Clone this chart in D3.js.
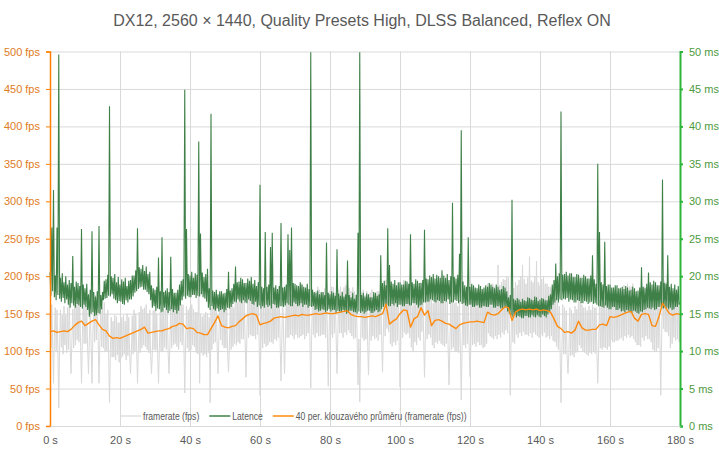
<!DOCTYPE html>
<html>
<head>
<meta charset="utf-8">
<script src="https://cdn.jsdelivr.net/npm/d3@7"></script>
<style>
  html, body { margin: 0; padding: 0; background: #fff; }
  svg { display: block; font-family: "Liberation Sans", Arial, sans-serif; }
</style>
</head>
<body>
<svg id="chart" width="719" height="455"></svg>
<script>
// ---- DATA ----
const title = "DX12, 2560 × 1440, Quality Presets High, DLSS Balanced, Reflex ON";
const seriesNames = ["framerate (fps)", "Latence", "40 per. klouzavého průměru (framerate (fps))"];
const timeStep = 0.25;     // seconds between samples of framerate / latency
const avgStep = 1;         // seconds between samples of the moving average
const xTicks = [0, 20, 40, 60, 80, 100, 120, 140, 160, 180];
const fpsTicks = [0, 50, 100, 150, 200, 250, 300, 350, 400, 450, 500];
const msTicks = [0, 5, 10, 15, 20, 25, 30, 35, 40, 45, 50];

// framerate (fps), 4 samples per second
const framerate = [
150,104,162,112, 57,118,158,100, 155,103,24,110, 155,105,148,96, 160,108,148,98,
158,102,165,110, 70,114,156,104, 162,108,170,115, 170,112,165,106, 57,118,172,110,
168,110,160,104, 70,115,160,108, 57,120,172,112, 175,115,168,118, 57,112,163,106,
158,104,165,100, 150,100,155,96, 31,98,145,92, 140,92,148,88, 146,95,138,85,
138,90,145,93, 148,96,140,88, 150,94,145,98, 70,100,147,96, 155,100,150,104,
57,102,152,98, 160,104,156,108, 158,106,162,102, 150,98,155,94, 70,100,154,102,
155,101,150,97, 57,104,152,100, 158,100,154,105, 155,102,160,98, 70,106,160,104,
162,108,158,110, 160,106,165,102, 168,112,162,108, 162,110,44,112, 160,104,155,100,
158,102,162,108, 156,106,152,98, 152,96,230,57, 150,98,146,94, 148,96,152,92,
150,98,145,31, 158,102,162,110, 170,112,165,108, 70,118,175,115, 165,108,160,104,
160,104,156,100, 72,106,162,102, 165,106,158,110, 204,108,165,112, 170,110,174,116,
175,116,170,112, 65,120,180,118, 182,122,176,120, 178,120,184,116, 180,122,175,110,
41,106,166,104, 168,110,162,106, 170,108,165,112, 172,112,168,110, 176,116,170,114,
178,118,174,112, 60,120,180,116, 70,114,176,118, 182,118,178,122, 175,120,182,116,
180,122,176,118, 176,118,184,120, 190,122,178,116, 182,120,176,124, 178,118,51,122,
182,122,178,118, 180,124,186,120, 182,120,176,122, 178,122,184,118, 180,125,53,120,
180,122,186,118, 185,124,178,120, 70,122,182,124, 186,124,180,118, 185,125,188,122,
190,128,184,124, 180,120,185,116, 180,118,176,114, 55,116,32,118, 178,118,182,114,
175,116,180,112, 68,118,178,114, 182,120,176,116, 176,118,180,114, 180,122,184,118,
72,124,185,120, 195,130,200,126, 200,110,176,106, 172,112,178,108, 178,114,182,116,
52,120,185,118, 195,125,190,122, 190,124,186,118, 165,105,160,100, 178,112,172,108,
184,118,180,114, 192,126,188,120, 65,118,185,116, 190,122,186,118, 168,108,164,104,
176,112,172,110, 180,114,176,110, 172,108,176,106, 170,110,166,104, 55,108,168,102,
168,105,164,100, 165,100,160,98, 168,104,35,106, 172,108,168,104, 175,110,170,106,
66,110,174,108, 176,110,172,106, 178,112,174,108, 175,108,170,104, 172,106,176,110,
190,124,186,120, 185,118,190,116, 186,120,182,116, 215,122,188,118, 192,125,196,122,
195,128,200,124, 198,130,41,120, 178,112,184,110, 192,122,188,118, 195,124,200,120,
215,126,196,122, 190,122,198,120, 226,124,194,118, 192,125,200,122, 220,120,192,118,
188,122,196,120, 200,125,190,118, 190,120,186,116, 185,120,180,114, 175,112,170,106,
165,102,160,98, 31,100,162,96, 158,96,154,92, 70,98,158,94, 155,95,150,92,
160,98,156,100, 172,108,166,104, 162,100,158,98, 158,96,154,94, 160,98,155,96,
162,100,158,97, 158,98,57,100, 168,104,164,102, 170,105,166,104, 166,102,170,106,
180,115,176,112, 182,112,178,114, 178,114,184,116, 185,118,180,114, 188,120,184,118,
190,122,186,118, 186,120,190,116, 178,112,174,108, 172,108,176,106, 184,118,180,114,
186,120,182,116, 182,116,178,112, 166,102,162,100, 168,100,164,104, 176,114,41,120,
198,130,194,126, 192,125,188,120, 184,104,180,110, 180,118,176,114, 182,116,178,112,
140
];

// latency (ms), 4 samples per second
const latency = [
20.5,17.4,26.5,18.0, 31.5,17.2,20.1,16.8, 26.5,17.5,49.6,17.0, 19.8,16.6,20.4,17.1, 19.2,16.4,20.0,16.9,
18.9,16.2,19.5,15.8, 19.1,16.4,22.7,16.1, 18.6,15.8,19.3,16.3, 19.1,16.1,18.7,15.9, 26.3,15.7,18.9,16.2,
18.4,15.9,19.0,15.5, 17.6,14.6,18.2,15.0, 26.0,15.2,17.9,14.7, 17.3,14.8,18.0,15.1, 26.7,15.0,17.5,15.6,
17.9,16.8,19.4,17.0, 19.6,17.1,20.2,17.4, 42.7,17.3,20.0,17.6, 19.8,17.0,20.3,16.8, 19.2,16.4,19.9,16.7,
18.9,16.6,19.6,16.3, 19.3,16.2,19.8,16.8, 18.7,16.5,19.4,16.9, 19.5,16.9,20.1,17.3, 20.1,17.8,20.8,18.0,
26.4,18.3,21.2,18.5, 21.0,18.6,21.5,18.2, 20.7,18.2,21.3,17.9, 20.3,17.6,20.6,16.8, 18.8,15.8,18.4,16.0,
18.2,15.4,18.6,15.7, 22.5,15.6,18.0,15.2, 25.2,15.3,17.9,15.8, 18.1,15.5,18.4,15.1, 17.9,15.4,22.6,15.6,
18.3,15.2,17.8,15.5, 17.8,15.0,18.2,15.4, 18.9,16.1,19.4,16.8, 19.6,17.3,44.9,17.0, 26.3,17.4,20.3,17.2,
20.1,17.2,20.6,17.5, 19.8,17.5,20.4,17.1, 20.2,17.4,38.0,17.3, 25.7,17.6,20.5,17.2, 19.9,17.0,20.3,16.6,
21.0,15.8,18.4,15.5, 41.7,16.0,18.1,15.6, 17.9,15.4,18.2,15.7, 17.6,15.3,18.0,15.5, 18.0,15.6,17.7,15.2,
17.8,15.5,18.3,15.8, 20.6,15.7,18.1,15.9, 18.4,16.3,19.0,16.6, 21.3,16.5,19.2,16.9, 19.3,16.6,19.8,16.4,
19.6,16.8,19.1,16.5, 19.1,16.4,19.7,16.9, 19.4,16.7,19.9,16.3, 19.0,16.2,19.5,16.6, 18.7,15.9,19.2,16.1,
32.2,15.7,18.6,16.0, 18.4,15.8,25.9,16.2, 18.6,15.9,18.9,16.1, 23.9,15.7,25.8,16.3, 18.5,16.2,18.8,15.8,
18.3,15.8,18.7,16.0, 27.1,16.0,18.5,15.9, 18.6,16.1,18.9,16.4, 25.6,16.2,23.5,16.0, 26.5,16.0,19.1,16.5,
19.0,16.3,18.8,16.0, 18.7,16.1,19.2,16.4, 18.9,15.9,18.6,16.2, 18.5,16.2,19.0,15.8, 18.3,16.0,49.9,15.9,
18.2,16.0,17.9,15.5, 17.8,15.6,18.1,15.3, 17.6,15.4,17.9,15.6, 17.9,15.5,17.5,15.2, 24.5,15.4,17.8,15.6,
17.6,15.3,18.0,15.5, 17.8,15.5,17.4,15.1, 23.6,15.4,17.7,15.3, 17.4,15.2,17.9,15.5, 17.3,15.3,17.6,15.0,
22.1,15.1,17.5,15.4, 17.2,15.4,17.8,15.2, 17.0,15.2,17.5,15.0, 25.8,15.3,49.9,15.1, 17.5,15.3,17.8,15.0,
17.3,15.2,17.7,15.4, 17.6,15.4,17.2,15.1, 17.2,15.1,17.9,15.3, 17.8,15.5,17.4,15.2, 17.6,15.3,22.8,15.6,
19.1,15.9,19.4,16.2, 18.8,16.2,26.4,16.0, 21.5,16.0,19.3,16.3, 19.0,16.1,19.5,16.4, 18.8,15.9,19.2,16.2,
19.2,16.2,18.9,16.0, 18.9,16.0,19.4,16.3, 19.3,16.3,19.0,16.1, 25.6,16.1,19.2,16.4, 19.0,16.4,19.6,16.2,
19.4,15.8,19.1,16.1, 19.1,16.2,19.5,16.5, 26.2,16.5,19.7,16.6, 19.6,16.6,20.1,16.9, 19.9,16.8,20.3,16.6,
19.7,16.5,20.2,16.8, 20.0,16.7,19.8,16.4, 20.8,16.4,20.1,16.7, 19.8,16.6,20.3,16.9, 19.5,16.3,20.0,16.5,
29.8,16.5,19.9,16.8, 19.7,16.7,20.2,16.4, 23.0,16.6,39.5,16.3, 19.3,16.4,18.8,16.1, 18.6,16.0,25.2,16.2,
18.6,16.2,19.0,15.9, 18.8,15.9,18.5,16.1, 18.4,16.1,18.9,15.8, 18.7,15.8,18.3,16.0, 18.5,16.0,18.8,15.9,
18.6,15.9,19.1,16.2, 18.9,16.2,18.6,15.8, 18.4,15.8,18.9,16.0, 18.6,16.0,18.2,15.7, 18.3,15.7,18.7,15.9,
18.5,15.9,18.0,15.3, 17.2,15.0,17.5,14.8, 30.2,14.6,17.0,14.9, 16.8,14.5,17.1,14.7, 16.9,14.6,16.6,14.4,
17.0,14.4,16.8,14.7, 16.7,14.7,17.2,14.5, 17.1,14.5,16.9,14.8, 16.8,14.6,17.3,14.5, 17.2,14.8,16.7,14.6,
16.9,14.5,17.1,14.9, 17.0,14.7,16.8,14.5, 16.8,14.9,17.4,15.2, 17.6,15.6,18.9,16.2, 19.5,16.5,21.7,16.8,
20.0,16.5,20.4,16.9, 42.0,16.8,20.2,17.0, 20.3,16.9,20.6,17.1, 20.1,16.6,20.4,16.9, 20.4,16.8,19.9,16.5,
19.9,16.5,20.3,16.8, 20.2,16.7,19.8,16.4, 19.8,16.4,20.2,16.7, 20.0,16.6,19.7,16.3, 19.7,16.5,20.1,16.6,
22.8,16.3,19.6,16.4, 19.0,16.2,35.0,16.0, 25.9,16.0,19.2,15.9, 18.9,15.8,24.6,16.1, 18.7,15.8,18.9,15.6,
18.9,15.6,18.5,15.9, 18.5,15.9,18.8,15.5, 18.8,15.5,18.4,15.7, 18.4,15.3,18.6,15.4, 18.3,15.2,18.7,15.5,
18.5,15.4,18.1,15.2, 18.2,15.1,18.6,15.4, 18.4,15.3,18.0,15.1, 18.1,15.0,18.5,15.3, 21.2,15.2,18.6,15.5,
18.4,15.6,19.0,15.8, 20.5,15.7,19.2,15.6, 18.9,15.8,19.4,15.5, 19.2,15.6,18.8,15.9, 18.8,15.9,19.3,15.7,
32.9,15.7,19.1,16.0, 19.0,15.8,22.8,15.6, 18.6,15.8,19.0,15.5, 18.4,15.6,18.9,15.9, 18.2,15.9,18.7,16.2,
16.5
];

// 40-period moving average of framerate (fps), 1 sample per second
const movingAvg = [
126,127,125,126,127,126,129,134,138,140, 134,137,140,142,135,129,127,120,117,118,
117,119,121,123,125,127,129,132,124,125, 126,127,127,129,130,133,134,137,136,130,
131,130,125,124,122,122,130,138,147,134, 132,131,133,134,139,143,147,149,150,148,
135,137,138,140,144,145,146,145,146,147, 148,147,149,148,148,149,150,149,150,151,
150,150,151,152,153,154,149,147,146,146, 145,146,147,146,148,150,163,136,140,143,
150,155,154,132,143,146,158,148,154,134, 141,142,140,137,136,133,130,135,137,138,
139,139,140,139,138,152,149,148,150,155, 159,158,141,152,155,156,155,156,155,156,
154,155,154,152,143,133,130,125,126,124, 128,140,131,128,128,129,129,135,136,134,
146,145,146,148,150,152,153,144,140,149, 150,149,134,133,146,164,157,150,148,150,
149
];

// ---- LAYOUT / STYLE ----
const plot = { left: 50, right: 680, top: 51.5, bottom: 426 };
const colors = {
  fps: "#D9D9D9", lat: "#3F8048", avg: "#FF8A0D",
  leftAxis: "#FF8000", leftText: "#E07B24",
  rightAxis: "#2DB53A", rightText: "#4E9A3E",
  grid: "#D9D9D9", text: "#595959"
};
const legendCondense = 0.78;   // reference legend uses a narrow face

const svg = d3.select("#chart");

const x = d3.scaleLinear().domain([0, 180]).range([plot.left, plot.right]);
const yF = d3.scaleLinear().domain([0, 500]).range([plot.bottom, plot.top]);
const yM = d3.scaleLinear().domain([0, 50]).range([plot.bottom, plot.top]);

// Title
svg.append("text")
  .attr("x", 362).attr("y", 26)
  .attr("text-anchor", "middle")
  .attr("font-size", 16)
  .attr("fill", colors.text)
  .text(title);

// Horizontal gridlines
svg.append("g")
  .attr("transform", `translate(${plot.left},0)`)
  .call(d3.axisLeft(yF).tickValues(fpsTicks).tickSize(-(plot.right - plot.left)).tickFormat(""))
  .call(g => g.select(".domain").remove())
  .call(g => g.selectAll("line").attr("stroke", colors.grid).attr("stroke-width", 1));

// Vertical gridlines
svg.append("g")
  .attr("transform", `translate(0,${plot.bottom})`)
  .call(d3.axisBottom(x).tickValues(xTicks.filter(d => d > 0 && d < 180)).tickSize(-(plot.bottom - plot.top)).tickFormat(""))
  .call(g => g.select(".domain").remove())
  .call(g => g.selectAll("line").attr("stroke", colors.grid).attr("stroke-width", 1));

// Series lines
const fpsLine = d3.line().x((d, i) => x(i * timeStep)).y(d => yF(d));
const latLine = d3.line().x((d, i) => x(i * timeStep)).y(d => yM(d));
const avgLine = d3.line().x((d, i) => x(i * avgStep)).y(d => yF(d));

svg.append("path").datum(framerate)
  .attr("d", fpsLine).attr("fill", "none")
  .attr("stroke", colors.fps).attr("stroke-width", 1).attr("stroke-linejoin", "miter");

svg.append("path").datum(latency)
  .attr("d", latLine).attr("fill", "none")
  .attr("stroke", colors.lat).attr("stroke-width", 1.1).attr("stroke-linejoin", "miter");

svg.append("path").datum(movingAvg)
  .attr("d", avgLine).attr("fill", "none")
  .attr("stroke", colors.avg).attr("stroke-width", 1.4).attr("stroke-linejoin", "round");

// Left axis (fps)
svg.append("g")
  .attr("transform", `translate(${plot.left},0)`)
  .call(d3.axisLeft(yF).tickValues(fpsTicks).tickSize(4).tickPadding(6).tickFormat(d => d + " fps"))
  .call(g => g.select(".domain").attr("stroke", colors.leftAxis).attr("stroke-width", 1.5))
  .call(g => g.selectAll(".tick line").attr("stroke", colors.leftAxis))
  .call(g => g.selectAll(".tick text").attr("fill", colors.leftText)
      .attr("font-size", 11).attr("font-family", "'Liberation Sans', Arial, sans-serif"));

// Right axis (ms)
svg.append("g")
  .attr("transform", `translate(${plot.right},0)`)
  .call(d3.axisRight(yM).tickValues(msTicks).tickSize(3).tickPadding(6).tickFormat(d => d + " ms"))
  .call(g => g.select(".domain").attr("stroke", colors.rightAxis).attr("stroke-width", 2))
  .call(g => g.selectAll(".tick line").attr("stroke", colors.rightAxis).attr("stroke-width", 2))
  .call(g => g.selectAll(".tick text").attr("fill", colors.rightText)
      .attr("font-size", 11).attr("font-family", "'Liberation Sans', Arial, sans-serif"));

// Bottom axis labels (time)
svg.append("g")
  .attr("transform", `translate(0,${plot.bottom})`)
  .call(d3.axisBottom(x).tickValues(xTicks).tickSize(0).tickPadding(10).tickFormat(d => d + " s"))
  .call(g => g.select(".domain").attr("stroke", colors.grid))
  .call(g => g.selectAll(".tick text").attr("fill", colors.text)
      .attr("font-size", 11).attr("font-family", "'Liberation Sans', Arial, sans-serif"));

// Legend
const legendColors = [colors.fps, colors.lat, colors.avg];
const legend = svg.append("g").attr("transform", "translate(120,416)");
let lx = 0;
seriesNames.forEach((name, i) => {
  const item = legend.append("g").attr("transform", `translate(${lx},0)`);
  item.append("line").attr("x1", 0).attr("x2", 21).attr("y1", 0).attr("y2", 0)
    .attr("stroke", legendColors[i]).attr("stroke-width", i === 0 ? 1.2 : 1.5);
  const t = item.append("text").attr("x", 23).attr("y", 4)
    .attr("font-size", 11).attr("fill", colors.text).text(name);
  const w = t.node().getComputedTextLength() * legendCondense;
  t.attr("textLength", w).attr("lengthAdjust", "spacingAndGlyphs");
  lx += 23 + w + 10;
});
</script>
</body>
</html>
